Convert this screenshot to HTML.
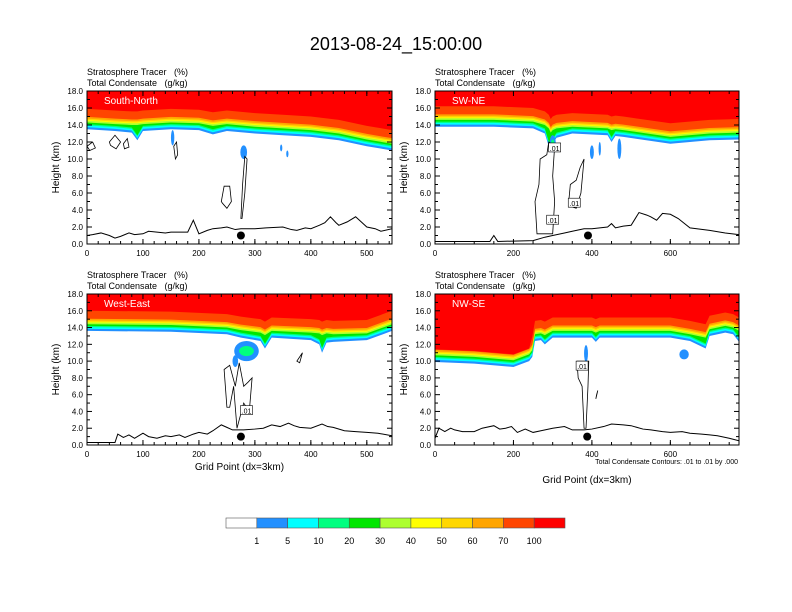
<!DOCTYPE html>
<html><head><meta charset="utf-8">
<style>
html,body{margin:0;padding:0;background:#fff;}
svg{display:block;font-family:"Liberation Sans",Arial,sans-serif;}
text{white-space:pre;}
</style></head>
<body>
<svg id="fig" width="792" height="612" viewBox="0 0 792 612" xmlns="http://www.w3.org/2000/svg">
<text x="396" y="50" text-anchor="middle" font-size="18">2013-08-24_15:00:00</text>
<g id="panels"></g>
<g id="cbar"></g>
</svg>
<script>
const levelLabels = ["1","5","10","20","30","40","50","60","70","100"];
const levelColors = ["#ffffff","#2290ff","#00ffff","#00ff80","#00e600","#adff2f","#ffff00","#ffd700","#ffa500","#ff4500","#ff0000"];
const bandOffsets = [0,0.25,0.45,0.6,0.8,1.0,1.1,1.25,1.45,2.4];

const p1X = [0,50,80,90,100,150,200,225,250,300,350,400,450,500,545];
const p1Base = [13.5,13.3,13.1,12.2,13.3,13.5,13.4,12.9,13.3,13.0,12.8,12.6,12.2,11.5,11.0];
const p1Upper = [13.5,13.3,13.2,13.2,13.3,13.5,13.4,13.1,13.3,13.0,12.8,12.6,12.2,11.5,11.0];
const p1TerrX = [0,10,25,40,50,60,75,85,100,110,125,140,150,180,190,200,215,225,240,250,265,275,300,320,350,365,375,390,400,415,425,435,445,450,465,480,490,500,515,525,545];
const p1TerrY = [1.0,1.1,1.3,1.0,0.7,0.9,1.3,1.1,1.2,1.5,1.4,1.3,1.4,1.4,2.8,1.2,1.6,1.8,1.9,2.0,1.7,1.8,1.8,1.9,2.0,1.7,1.6,1.9,1.8,2.2,2.5,3.2,2.5,2.2,2.6,3.2,2.6,2.0,1.8,1.5,1.8];

const p2X = [0,150,250,280,290,295,300,310,350,440,450,460,480,600,700,775];
const p2Base = [13.8,13.8,13.6,13.0,11.5,10.8,11.8,12.5,13.0,12.8,12.0,12.7,12.6,11.8,12.2,12.3];
const p2Upper = [13.8,13.8,13.6,13.2,12.8,12.3,12.6,12.8,13.0,12.8,12.6,12.7,12.6,11.8,12.2,12.3];
const p2TerrX = [0,140,150,160,250,280,300,330,350,380,400,420,440,450,460,480,500,520,540,550,565,580,600,620,650,700,740,775];
const p2TerrY = [0.3,0.3,1.0,0.3,0.4,0.8,1.0,1.3,1.5,1.8,1.8,1.9,2.0,2.4,1.9,2.1,2.2,3.7,3.4,3.2,2.8,3.6,3.5,3.0,1.9,1.6,1.3,1.1];

const p3X = [0,150,250,275,310,318,330,400,415,420,428,440,500,545];
const p3Base = [13.6,13.5,13.2,12.8,12.4,11.5,12.8,12.5,12.0,11.0,12.2,12.3,12.5,13.6];
const p3Upper = [13.6,13.5,13.2,12.9,12.6,12.3,12.8,12.6,12.5,12.3,12.5,12.4,12.5,13.6];
const p3TerrX = [0,50,55,65,75,85,100,110,125,140,150,165,175,190,200,215,225,240,250,260,280,300,315,330,345,360,370,380,400,420,430,440,460,480,500,520,545];
const p3TerrY = [0.3,0.3,1.3,0.9,1.2,0.8,1.4,1.0,0.8,1.1,1.0,1.2,0.9,1.3,1.5,1.3,1.7,2.4,2.1,1.8,1.8,1.9,2.0,2.4,2.2,2.6,2.3,2.1,2.0,2.5,2.2,2.1,1.7,1.6,1.5,1.4,1.1];

const p4X = [0,100,200,240,248,255,270,280,300,400,410,420,500,600,650,690,700,740,760,775];
const p4Base = [9.9,9.7,9.3,10.0,10.5,12.4,12.5,12.0,12.8,12.8,12.3,12.8,12.8,12.8,12.4,11.5,13.0,13.4,13.2,12.3];
const p4Upper = [9.9,9.7,9.3,10.0,10.5,12.4,12.5,12.3,12.8,12.8,12.6,12.8,12.8,12.8,12.4,12.0,13.0,13.4,13.2,12.8];
const p4RedShift = [-0.9,-0.9,-0.9,-0.9,0,0,0,0,0,0,0,0,0,0,0,0,0,0,0,0];
const p4TerrX = [0,10,25,40,50,70,100,120,150,165,180,195,210,230,250,270,300,330,350,380,400,430,450,480,500,530,550,580,600,630,650,680,700,720,750,775];
const p4TerrY = [0.8,2.0,1.6,2.0,1.8,1.6,1.6,2.0,2.3,1.9,2.0,2.2,1.5,1.9,1.5,1.7,2.0,2.2,1.8,1.8,1.9,2.2,2.5,2.4,2.3,1.9,1.8,1.6,1.5,1.6,1.4,1.3,1.2,1.1,0.8,0.5];

const panels = [
 {name:"south-north", label:"South-North", x0:87,y0:91,w:305,h:153,xmax:545, xticks:[0,100,200,300,400,500], bx:p1X, base:p1Base, upper:p1Upper, tx:p1TerrX, ty:p1TerrY, dot:275,
  blobs:[[280,10.8,6,0.8,1],[153,12.5,3,0.9,1],[347,11.3,2,0.4,1],[358,10.6,2,0.4,1]],
  contours:[[[275,3],[278,7],[282,10.3],[286,10],[282,6],[277,3]],[[240,5],[245,6.8],[255,6.8],[258,5],[250,4.2],[242,4.8]],[[40,12],[50,12.8],[60,12],[52,11.2],[42,11.6]],[[65,11.8],[72,12.4],[75,11.4],[67,11.2]],[[0,11.5],[10,12],[15,11.3],[5,11]],[[155,11.5],[158,10],[162,10.5],[160,12]]],labels:[], xtitle:false},
 {name:"sw-ne", label:"SW-NE", x0:435,y0:91,w:304,h:153,xmax:775, xticks:[0,200,400,600], bx:p2X, base:p2Base, upper:p2Upper, tx:p2TerrX, ty:p2TerrY, dot:390,
  blobs:[[400,10.8,5,0.8,1],[420,11.2,3,0.8,1],[470,11.2,5,1.2,1],[300,11.8,8,1,3]],
  contours:[[[260,1.2],[255,5],[265,7],[268,10],[285,10.5],[290,12],[305,11.5],[300,8],[305,5],[300,1.2]],[[340,4.5],[345,7],[360,7.5],[370,9],[380,10],[372,6],[360,4.2]]],
  labels:[[305,11.3],[355,4.8],[300,2.8]], xtitle:false},
 {name:"west-east", label:"West-East", x0:87,y0:294,w:305,h:151,xmax:545, xticks:[0,100,200,300,400,500], bx:p3X, base:p3Base, upper:p3Upper, tx:p3TerrX, ty:p3TerrY, dot:275,
  blobs:[[285,11.2,22,1.2,3],[265,10,5,0.7,1]],
  contours:[[[250,4.5],[245,9],[255,9.5],[265,7],[272,9.8],[280,7],[288,7.5],[295,8],[290,4],[280,5],[268,2],[262,7],[255,4.5]],[[375,10],[385,11],[380,9.8]]],
  labels:[[285,4.1]], xtitle:true},
 {name:"nw-se", label:"NW-SE", x0:435,y0:294,w:304,h:151,xmax:775, xticks:[0,200,400,600], bx:p4X, base:p4Base, upper:p4Upper, tx:p4TerrX, ty:p4TerrY, dot:388,
  blobs:[[385,10.9,5,1.0,1],[635,10.8,12,0.6,1]],
  contours:[[[380,2],[375,7],[365,8],[362,10],[392,10],[390,7],[385,2]],[[410,5.5],[415,6.5],[412,6]]],
  labels:[[375,9.4]], xtitle:true, note:true}
];

const root = document.getElementById('panels');
const NS = "http://www.w3.org/2000/svg";
function mk(tag, attrs, parent){const e=document.createElementNS(NS,tag);for(const k in attrs)e.setAttribute(k,attrs[k]);parent.appendChild(e);return e;}

panels.forEach((p,pi)=>{
 const g = mk('g',{},root);
 
 
 const sx = v => p.x0 + v/p.xmax*p.w;
 const sy = v => p.y0 + p.h - v/18*p.h;
 const clipId='clip'+pi;
 const cp=mk('clipPath',{id:clipId},g); mk('rect',{x:p.x0,y:p.y0,width:p.w,height:p.h},cp);
 const plot=mk('g',{'clip-path':'url(#'+clipId+')'},g);
 for(let i=0;i<bandOffsets.length;i++){
  const arr = i>=4 ? p.upper : p.base;
  let d='M'+sx(p.bx[0])+','+sy(18);
  p.bx.forEach((x,j)=>{let extra=(pi===3&&i===9)?p4RedShift[j]:0; d+=' L'+sx(x)+','+sy(Math.min(18,arr[j]+bandOffsets[i]+extra));});
  d+=' L'+sx(p.bx[p.bx.length-1])+','+sy(18)+' Z';
  const e=mk('path',{d:d,fill:levelColors[i+1]},plot);
  
  
 }
 p.blobs.forEach(b=>{
  const rx=b[2]/p.xmax*p.w, ry=b[3]/18*p.h;
  const e=mk('ellipse',{cx:sx(b[0]),cy:sy(b[1]),rx:rx,ry:ry,fill:levelColors[1]},plot);
  
  
  if(b[4]>1){mk('ellipse',{cx:sx(b[0]),cy:sy(b[1]),rx:rx*0.6,ry:ry*0.5,fill:levelColors[3]},plot);}
 });
 p.contours.forEach(c=>{
  const e=mk('path',{d:'M'+c.map(pt=>sx(pt[0])+','+sy(pt[1])).join(' L')+' Z',fill:'none',stroke:'#000','stroke-width':0.8},plot);
  
  
 });
 p.labels.forEach(l=>{
  mk('rect',{x:sx(l[0])-6,y:sy(l[1])-5,width:12,height:9,fill:'#fff',stroke:'#000','stroke-width':0.6},plot);
  const t=mk('text',{x:sx(l[0]),y:sy(l[1])+3,'font-size':7,'text-anchor':'middle'},plot); t.textContent='.01';
  
  
 });
 const tl=mk('polyline',{points:p.tx.map((x,j)=>sx(x)+','+sy(p.ty[j])).join(' '),fill:'none',stroke:'#000','stroke-width':1},plot);
 
 
 const dt=mk('circle',{cx:sx(p.dot),cy:sy(1.0),r:4,fill:'#000'},plot);
 
 
 const fr=mk('rect',{x:p.x0,y:p.y0,width:p.w,height:p.h,fill:'none',stroke:'#000','stroke-width':1},g);
 
 
 for(let v=0;v<=18;v+=2){
  const y=sy(v);
  mk('line',{x1:p.x0,x2:p.x0+5,y1:y,y2:y,stroke:'#000'},g);
  mk('line',{x1:p.x0+p.w,x2:p.x0+p.w-5,y1:y,y2:y,stroke:'#000'},g);
  if(v<18){mk('line',{x1:p.x0,x2:p.x0+3,y1:sy(v+1),y2:sy(v+1),stroke:'#000'},g);mk('line',{x1:p.x0+p.w,x2:p.x0+p.w-3,y1:sy(v+1),y2:sy(v+1),stroke:'#000'},g);}
  const t=mk('text',{x:p.x0-4,y:y+3,'font-size':8,'text-anchor':'end'},g); t.textContent=v.toFixed(1);
  
  
 }
 const minor = p.xmax>600?50:20;
 for(let v=0;v<=p.xmax;v+=minor){const x=sx(v);mk('line',{x1:x,x2:x,y1:p.y0+p.h,y2:p.y0+p.h-3,stroke:'#000'},g);mk('line',{x1:x,x2:x,y1:p.y0,y2:p.y0+3,stroke:'#000'},g);}
 p.xticks.forEach(v=>{
  const x=sx(v);
  mk('line',{x1:x,x2:x,y1:p.y0+p.h,y2:p.y0+p.h-5,stroke:'#000'},g);
  mk('line',{x1:x,x2:x,y1:p.y0,y2:p.y0+5,stroke:'#000'},g);
  const t=mk('text',{x:x,y:p.y0+p.h+12,'font-size':8,'text-anchor':'middle'},g); t.textContent=v;
  
  
 });
 const yt=mk('text',{x:0,y:0,'font-size':10,'text-anchor':'middle',transform:'translate('+(p.x0-28)+','+(p.y0+p.h/2)+') rotate(-90)'},g); yt.textContent='Height (km)';
 
 
 const h1=mk('text',{x:p.x0,y:p.y0-16,'font-size':9},g); h1.textContent='Stratosphere Tracer   (%)';
 
 
 const h2=mk('text',{x:p.x0,y:p.y0-5,'font-size':9},g); h2.textContent='Total Condensate   (g/kg)';
 
 
 const pl=mk('text',{x:p.x0+17,y:p.y0+13,'font-size':10,fill:'#fff'},g); pl.textContent=p.label;
 
 
 if(p.xtitle){const t=mk('text',{x:p.x0+p.w/2,y:p.note?483:470,'font-size':10,'text-anchor':'middle'},g);t.textContent='Grid Point (dx=3km)';
  
  }
 if(p.note){const t=mk('text',{x:p.x0+p.w-1,y:p.y0+p.h+19,'font-size':7,'text-anchor':'end'},g);t.textContent='Total Condensate Contours: .01 to .01 by .000';
  
  }
});

const cb=document.getElementById('cbar');
const cbX=226, cbW=339, cbY=518, cbH=10, bw=cbW/levelColors.length;
levelColors.forEach((c,i)=>{
 const r=mk('rect',{x:cbX+i*bw,y:cbY,width:bw,height:cbH,fill:c,stroke:'#555','stroke-width':0.6},cb);
 
 
});
levelLabels.forEach((l,i)=>{
 const t=mk('text',{x:cbX+(i+1)*bw,y:cbY+26,'font-size':9,'text-anchor':'middle'},cb); t.textContent=l;
 
 
});
</script>
</body></html>
